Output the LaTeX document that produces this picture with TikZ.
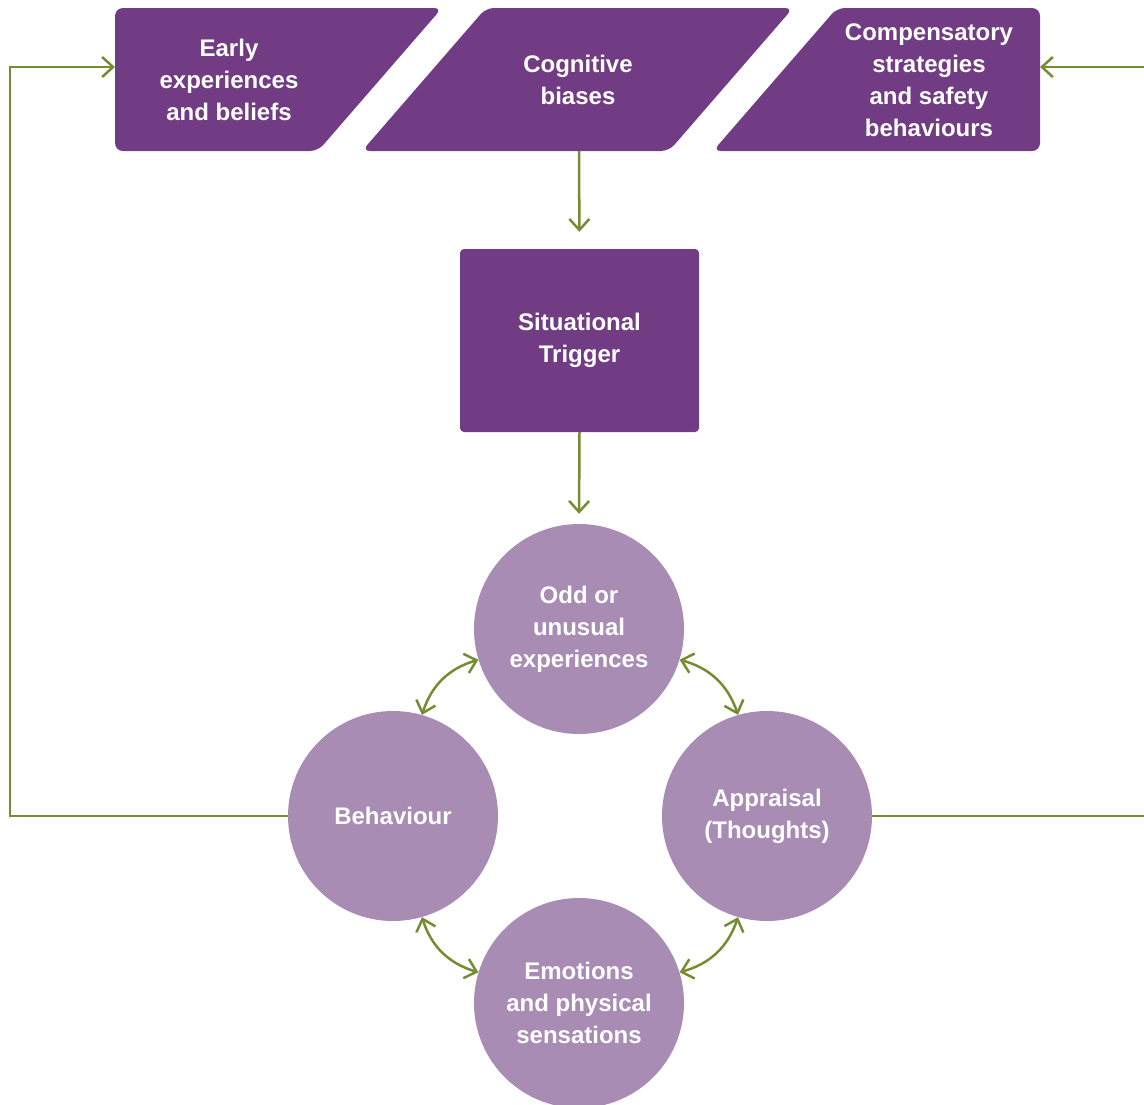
\documentclass[tikz,border=0pt]{standalone}
\usepackage{fontspec}
\setmainfont{Liberation Sans}
\usetikzlibrary{arrows.meta}

\definecolor{plum}{HTML}{723C84}
\definecolor{lilac}{HTML}{A88CB4}
\definecolor{olive}{HTML}{768C32}

\tikzset{
  label text/.style={text=white, font=\fontsize{24}{32}\selectfont\bfseries, align=center, inner sep=0pt},
  slantbox/.style={fill=plum, rounded corners=8pt},
  bubble/.style={circle, fill=lilac, minimum size=210pt, inner sep=0pt, label text},
  link/.style={draw=olive, line width=2.5pt, -{Straight Barb[length=11pt,width=20pt]}},
  duallink/.style={draw=olive, line width=2.5pt, {Straight Barb[length=11pt,width=20pt]}-{Straight Barb[length=11pt,width=20pt]}},
}

\begin{document}
\begin{tikzpicture}[x=1pt, y=-1pt]
  \path[use as bounding box] (0,0) rectangle (1144,1104);

  % top row of slanted boxes
  \path[slantbox] (115,8) -- (442,8) -- (318,151) -- (115,151) -- cycle;
  \path[slantbox] (486,8) -- (793,8) -- (669,151) -- (362,151) -- cycle;
  \path[slantbox] (837,8) -- (1040,8) -- (1040,151) -- (713,151) -- cycle;

  \node[label text] (early) at (229,80) {Early\\experiences\\and beliefs};
  \node[label text] (cog) at (578,80) {Cognitive\\biases};
  \node[label text] (comp) at (929,80) {Compensatory\\strategies\\and safety\\behaviours};

  \coordinate (earlyW) at (115,67);
  \coordinate (cogS) at (579,151);
  \coordinate (compE) at (1040,67);

  % trigger
  \node[fill=plum, rounded corners=4pt, minimum width=239pt, minimum height=183pt,
        inner sep=0pt, label text] (trigger) at (579.5,340.5) {Situational\\Trigger};

  % cycle of circles
  \node[bubble] (odd) at (579,629) {Odd or\\unusual\\experiences};
  \node[bubble] (beh) at (393,816) {Behaviour};
  \node[bubble] (app) at (767,816) {Appraisal\\(Thoughts)};
  \node[bubble] (emo) at (579,1003) {Emotions\\and physical\\sensations};

  % connectors
  \draw[link, shorten >=17pt] (cogS) -- (trigger.north);
  \draw[link, shorten >=10pt] (trigger.south) -- (odd.north);

  \draw[duallink] (odd.197) to[bend right=28] (beh.74);
  \draw[duallink] (beh.286) to[bend right=28] (emo.163);
  \draw[duallink] (emo.17) to[bend right=28] (app.254);
  \draw[duallink] (app.106) to[bend right=28] (odd.343);

  % feedback loops to the top row
  \coordinate (lcorner) at (10,67);
  \coordinate (rcorner) at (1150,67);
  \draw[link] (beh.west) -| (lcorner) -- (earlyW);
  \draw[link] (app.east) -| (rcorner) -- (compE);
\end{tikzpicture}
\end{document}
